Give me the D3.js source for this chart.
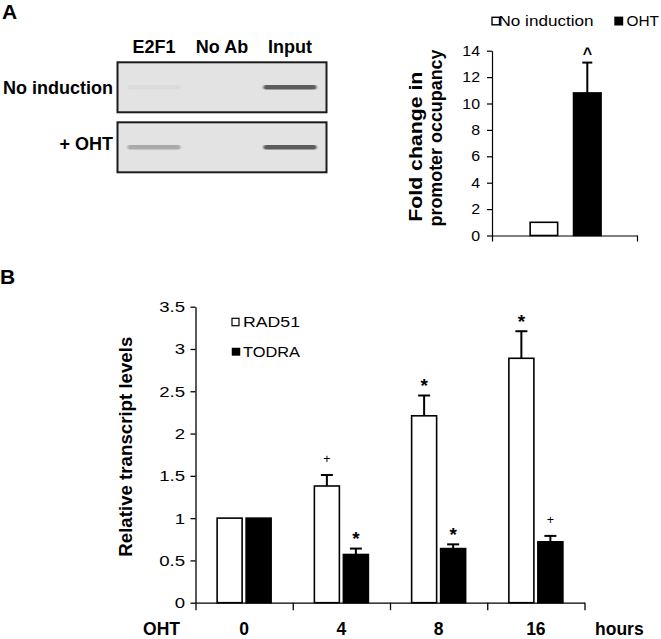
<!DOCTYPE html>
<html><head><meta charset="utf-8">
<script src="https://cdn.jsdelivr.net/npm/d3@7"></script>
<style>
body{margin:0;background:#fff}
svg{display:block}
text{font-family:"Liberation Sans",Arial,Helvetica,sans-serif;fill:#000}
</style>
</head><body>
<svg id="c" width="661" height="639"></svg>
<script>
// ---------- Panel A: gel ----------
const gelLanes = ["E2F1", "No Ab", "Input"];
const gelRows = ["No induction", "+ OHT"];
const gelBandIntensity = [[0.035, 0, 0.72], [0.30, 0, 0.72]];

// ---------- Panel A: promoter occupancy ----------
const occupancyCategories = ["No induction", "OHT"];
const occupancyValues = [1, 10.8];
const occupancyErrors = [0, 2.3];
const occupancyMarks = ["", "^"];
const occupancyTicks = [0, 2, 4, 6, 8, 10, 12, 14];

// ---------- Panel B: transcript levels ----------
const hours = ["0", "4", "8", "16"];
const seriesNames = ["RAD51", "TODRA"];
const rad51 = [1, 1.38, 2.21, 2.89];
const rad51Err = [0, 0.13, 0.24, 0.32];
const todra = [1, 0.57, 0.64, 0.72];
const todraErr = [0, 0.07, 0.05, 0.07];
const rad51Marks = ["", "+", "*", "*"];
const todraMarks = ["", "*", "*", "+"];
const transcriptTicks = [0, 0.5, 1, 1.5, 2, 2.5, 3, 3.5];

const svg = d3.select("#c");

// Panel letters
svg.append("text").attr("x", 2).attr("y", 19).attr("font-size", 21).attr("font-weight", "bold").text("A");
svg.append("text").attr("x", 0).attr("y", 284).attr("font-size", 21).attr("font-weight", "bold").text("B");

// ================= GEL =================
const defs = svg.append("defs");
defs.append("filter").attr("id", "blur").attr("x", "-10%").attr("y", "-200%").attr("width", "120%").attr("height", "500%")
  .append("feGaussianBlur").attr("stdDeviation", "0.9 0.7");

const gelX = d3.scaleBand().domain(gelLanes).range([120, 324]);
const gelY = d3.scaleBand().domain(gelRows).range([62.3, 172.3]).paddingInner(0.167);
const bandColor = d3.interpolateRgb("#e2e2e2", "#262626");

const gel = svg.append("g");
gel.selectAll(".lanelab").data(gelLanes).join("text")
  .attr("x", d => gelX(d) + gelX.bandwidth() / 2)
  .attr("y", 52.5)
  .attr("text-anchor", "middle").attr("font-size", 18).attr("font-weight", "bold")
  .text(d => d);

gelRows.forEach((row, ri) => {
  const y0 = gelY(row), h = gelY.bandwidth();
  gel.append("rect").attr("x", 117.5).attr("y", y0).attr("width", 209).attr("height", h)
    .attr("fill", "#e3e3e3").attr("stroke", "#1c1c1c").attr("stroke-width", 2);
  gel.append("text").attr("x", 113).attr("y", y0 + h / 2 + (ri === 0 ? 6.7 : 2.7))
    .attr("text-anchor", "end").attr("font-size", 18).attr("font-weight", "bold").text(row);
  gelLanes.forEach((lane, li) => {
    const t = gelBandIntensity[ri][li];
    if (t <= 0) return;
    const cx = gelX(lane) + gelX.bandwidth() / 2;
    gel.append("rect").attr("x", cx - 26.5).attr("y", y0 + h / 2 - 2.3)
      .attr("width", 53).attr("height", 4.6).attr("rx", 2)
      .attr("fill", bandColor(t)).attr("filter", "url(#blur)");
  });
});

// ================= PANEL A CHART =================
const yA = d3.scaleLinear().domain([0, 14]).range([235.5, 50.7]);
const xA = d3.scaleBand().domain(occupancyCategories).range([522.2, 609]);
const barWA = 27.5;
const gA = svg.append("g");

gA.append("g").attr("transform", "translate(492,0)")
  .call(d3.axisLeft(yA).tickValues(occupancyTicks).tickSize(5).tickSizeOuter(0).tickFormat(d3.format("d")))
  .call(g => g.selectAll("path,line").attr("stroke", "#000").attr("stroke-width", 1.2))
  .call(g => g.selectAll("text").attr("font-size", 14.5).attr("fill", "#000")
    .attr("x", -12 / 1.1).attr("transform", "scale(1.1,1)").attr("font-family", null));

const xAB = d3.scaleLinear().domain([0, 1]).range([492, 637]);
gA.append("g").attr("transform", `translate(0,${yA(0)})`)
  .call(d3.axisBottom(xAB).tickValues([0, 1]).tickSize(6).tickSizeOuter(0).tickFormat(""))
  .call(g => g.selectAll("path,line").attr("stroke", "#000").attr("stroke-width", 1.2));

occupancyCategories.forEach((c, i) => {
  const x = xA(c) + (xA.bandwidth() - barWA) / 2;
  const cx = xA(c) + xA.bandwidth() / 2;
  gA.append("rect").attr("x", x).attr("y", yA(occupancyValues[i])).attr("width", barWA)
    .attr("height", yA(0) - yA(occupancyValues[i]))
    .attr("fill", i === 0 ? "#fff" : "#000").attr("stroke", "#000").attr("stroke-width", 1.6);
  if (occupancyErrors[i] > 0) {
    const top = yA(occupancyValues[i] + occupancyErrors[i]);
    gA.append("line").attr("x1", cx).attr("x2", cx).attr("y1", yA(occupancyValues[i])).attr("y2", top)
      .attr("stroke", "#000").attr("stroke-width", 2);
    gA.append("line").attr("x1", cx - 5).attr("x2", cx + 5).attr("y1", top).attr("y2", top)
      .attr("stroke", "#000").attr("stroke-width", 2);
  }
  if (occupancyMarks[i]) {
    const top = yA(occupancyValues[i] + occupancyErrors[i]);
    gA.append("text").attr("x", cx).attr("y", top - 12.5 + 8.5).attr("text-anchor", "middle")
      .attr("font-size", 16).attr("font-weight", "bold").text(occupancyMarks[i]);
  }
});

// legend A
const legA = svg.append("g");
const legAX = [492, 615];
const legATextX = [498.5, 626.5];
const legALen = [95, 32.5];
occupancyCategories.forEach((c, i) => {
  legA.append("rect").attr("x", legAX[i]).attr("y", 17.3).attr("width", 7.5).attr("height", 7.5)
    .attr("fill", i === 0 ? "#fff" : "#000").attr("stroke", "#000").attr("stroke-width", 1.4);
  legA.append("text").attr("x", legATextX[i]).attr("y", 26.2).attr("font-size", 15)
    .attr("textLength", legALen[i]).attr("lengthAdjust", "spacingAndGlyphs").text(c);
});

// y label A
const labA = svg.append("g");
labA.append("text").attr("transform", "translate(422,146.7) rotate(-90)")
  .attr("text-anchor", "middle").attr("font-size", 18).attr("font-weight", "bold")
  .attr("textLength", 150).attr("lengthAdjust", "spacingAndGlyphs").text("Fold change in");
labA.append("text").attr("transform", "translate(441.5,138) rotate(-90)")
  .attr("text-anchor", "middle").attr("font-size", 18).attr("font-weight", "bold")
  .attr("textLength", 177).attr("lengthAdjust", "spacingAndGlyphs").text("promoter occupancy");

// ================= PANEL B =================
const yB = d3.scaleLinear().domain([0, 3.5]).range([602.7, 306.7]);
const x0 = d3.scaleBand().domain(hours).range([195.5, 584.5]);
const barW = 25, barGap = 4;
const gB = svg.append("g");

gB.append("g").attr("transform", "translate(195.5,0)")
  .call(d3.axisLeft(yB).tickValues(transcriptTicks).tickSize(5).tickSizeOuter(0).tickFormat(d3.format("")))
  .call(g => g.selectAll("path,line").attr("stroke", "#000").attr("stroke-width", 1.3))
  .call(g => g.selectAll("text").attr("font-size", 15.5).attr("fill", "#000")
    .attr("x", -10.5 / 1.2).attr("transform", "scale(1.2,1)").attr("font-family", null));

const xBB = d3.scaleLinear().domain([0, hours.length]).range([195.5, 584.5]);
gB.append("g").attr("transform", `translate(0,${yB(0)})`)
  .call(d3.axisBottom(xBB).tickValues(d3.range(hours.length + 1)).tickSize(7.5).tickSizeOuter(0).tickFormat(""))
  .call(g => g.selectAll("path,line").attr("stroke", "#000").attr("stroke-width", 1.3));

const series = [
  {name: seriesNames[0], vals: rad51, errs: rad51Err, marks: rad51Marks, fill: "#fff"},
  {name: seriesNames[1], vals: todra, errs: todraErr, marks: todraMarks, fill: "#000"}
];
const pairW = 2 * barW + barGap;
series.forEach((s, si) => {
  hours.forEach((h, i) => {
    const x = x0(h) + (x0.bandwidth() - pairW) / 2 + si * (barW + barGap);
    const cx = x + barW / 2;
    gB.append("rect").attr("x", x).attr("y", yB(s.vals[i])).attr("width", barW)
      .attr("height", yB(0) - yB(s.vals[i]))
      .attr("fill", s.fill).attr("stroke", "#000").attr("stroke-width", 1.6);
    const top = yB(s.vals[i] + s.errs[i]);
    if (s.errs[i] > 0) {
      gB.append("line").attr("x1", cx).attr("x2", cx).attr("y1", yB(s.vals[i])).attr("y2", top)
        .attr("stroke", "#000").attr("stroke-width", 2);
      gB.append("line").attr("x1", cx - 6).attr("x2", cx + 6).attr("y1", top).attr("y2", top)
        .attr("stroke", "#000").attr("stroke-width", 2);
    }
    const m = s.marks[i];
    if (m === "*") {
      gB.append("text").attr("x", cx).attr("y", top - 14.5 + 10.8).attr("text-anchor", "middle")
        .attr("font-size", 19).attr("font-weight", "bold").text("*");
    } else if (m === "+") {
      gB.append("text").attr("x", cx).attr("y", top - 16 + 4.2).attr("text-anchor", "middle")
        .attr("font-size", 12.5).attr("fill", "#222").text("+");
    }
  });
});

// category labels
gB.selectAll(".hlab").data(hours).join("text")
  .attr("x", d => x0(d) + x0.bandwidth() / 2).attr("y", 634.5)
  .attr("text-anchor", "middle").attr("font-size", 17.5).attr("font-weight", "bold").text(d => d);
gB.append("text").attr("x", 180).attr("y", 634.5).attr("text-anchor", "end")
  .attr("font-size", 17.5).attr("font-weight", "bold").text("OHT");
gB.append("text").attr("x", 595).attr("y", 634.5)
  .attr("font-size", 17.5).attr("font-weight", "bold").text("hours");

// y label B
gB.append("text").attr("transform", "translate(131.5,446.7) rotate(-90)")
  .attr("text-anchor", "middle").attr("font-size", 18).attr("font-weight", "bold")
  .attr("textLength", 220).attr("lengthAdjust", "spacingAndGlyphs").text("Relative transcript levels");

// legend B
const legB = svg.append("g");
const legBY = [322, 351.7];
series.forEach((s, si) => {
  legB.append("rect").attr("x", 232).attr("y", legBY[si] - 3.7).attr("width", si === 0 ? 7 : 8).attr("height", 7.4)
    .attr("fill", s.fill).attr("stroke", "#000").attr("stroke-width", si === 0 ? 1.2 : 0.5);
  legB.append("text").attr("x", 243).attr("y", legBY[si] + 5)
    .attr("font-size", 14).attr("textLength", 57).attr("lengthAdjust", "spacingAndGlyphs")
    .text(s.name);
});
</script>
</body></html>
